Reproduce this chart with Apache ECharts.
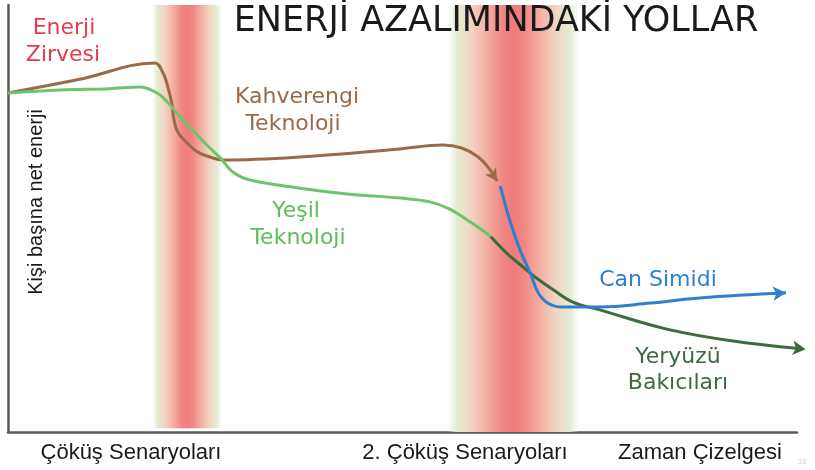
<!DOCTYPE html>
<html><head><meta charset="utf-8">
<script src="https://cdn.jsdelivr.net/npm/echarts@6/dist/echarts.min.js"></script>
<style>html,body{margin:0;padding:0;background:#fff}#c{width:815px;height:470px}</style>
</head><body><div id="c"></div>
<script>
// Conceptual values: x = time (0-100), y = net energy per person (0-100)
const brownTech = [[0,79.4],[9.1,82.6],[18.6,86.4],[19.6,84.3],[20.3,80.6],[20.8,76.6],[21.0,73.5],[21.5,70.3],[22.7,67.7],[24.0,65.6],[25.6,64.4],[27.2,63.7],[37.0,64.4],[49.7,66.3],[55.1,67.2],[57.5,66.5],[59.6,64.4],[61.1,61.4],[62.0,58.8]];
const greenTech = [[0,79.4],[6.6,80.1],[12.9,80.4],[16.7,80.8],[18.9,79.4],[20.2,77.3],[21.8,73.8],[23.4,70.7],[25.2,67.2],[26.9,64.2],[28.5,60.9],[30.7,59.0],[37.0,57.1],[43.3,55.7],[49.7,54.8],[53.5,53.9],[56.0,52.2],[58.6,49.2],[60.1,47.3],[61.2,45.7]];
const earthCare = [[61.2,45.7],[63.2,41.9],[65.3,38.6],[66.8,36.3],[69.1,33.3],[71.6,30.4],[75.0,28.6],[83.5,24.1],[91.9,21.3],[101.1,19.4]];
const lifeboat = [[62.4,57.6],[63.6,49.6],[64.9,42.6],[66.2,37.2],[67.2,32.6],[68.4,30.2],[70.0,29.3],[75.0,29.3],[81.4,30.2],[87.7,31.4],[98.6,32.6]];
const collapseBand1 = [18.3, 27.1];
const collapseBand2 = [55.7, 72.4];
const seriesNames = ['Kahverengi Teknoloji','Yeşil Teknoloji','Yeryüzü Bakıcıları','Can Simidi'];
const axisLabels = ['Çöküş Senaryoları','2. Çöküş Senaryoları','Zaman Çizelgesi'];
const yAxisName = 'Kişi başına net enerji';

function withArrow(arr, rot, size){
  return arr.map((p,i)=> i===arr.length-1 ? {value:p, symbol:'arrow', symbolSize:size, symbolRotate:rot} : {value:p});
}
function bandGrad(){
  return {type:'linear',x:0,y:0,x2:1,y2:0,colorStops:[
    {offset:0,color:'rgba(228,238,212,0)'},
    {offset:0.07,color:'#e3edd2'},
    {offset:0.18,color:'#f2d4c2'},
    {offset:0.3,color:'#f3aea2'},
    {offset:0.42,color:'#f08684'},
    {offset:0.5,color:'#ee7c7b'},
    {offset:0.58,color:'#f08684'},
    {offset:0.7,color:'#f3aea2'},
    {offset:0.82,color:'#f2d4c2'},
    {offset:0.93,color:'#e3edd2'},
    {offset:1,color:'rgba(228,238,212,0)'}]};
}
function line(name, data, color, z){
  return {name, type:'line', data, smooth:0.4, symbol:'none', showAllSymbol:true, clip:false, z,
    lineStyle:{color, width:3}, itemStyle:{color}, emphasis:{disabled:true}, animation:false};
}
const chart = echarts.init(document.getElementById('c'));
const txt = (t,x,y,color,font,extra)=>Object.assign({type:'text', x, y, z:100, style:{text:t, fill:color, font, align:'center', verticalAlign:'middle', textAlign:'center', textVerticalAlign:'middle'}}, extra||{});
const lblFont = '22px "DejaVu Sans"';
chart.setOption({
  animation:false,
  grid:{left:8, top:5, width:789, height:427},
  xAxis:{type:'value', min:0, max:100, axisLine:{show:true, lineStyle:{color:'#5a5a5a', width:2.5}}, axisTick:{show:false}, axisLabel:{show:false}, splitLine:{show:false}},
  yAxis:{type:'value', min:0, max:100, axisLine:{show:true, lineStyle:{color:'#5a5a5a', width:2.5}}, axisTick:{show:false}, axisLabel:{show:false}, splitLine:{show:false}},
  series:[
    Object.assign(line(seriesNames[0], withArrow(brownTech,-146,[10,12]), '#9a6a48', 3), {
      markArea:{silent:true, z:1, itemStyle:{color:bandGrad()}, data:[
        [{xAxis:collapseBand1[0], yAxis:0.9},{xAxis:collapseBand1[1], yAxis:100}],
        [{xAxis:collapseBand2[0], yAxis:0},{xAxis:collapseBand2[1], yAxis:100.5}]
      ]}
    }),
    line(seriesNames[1], greenTech, '#6cc56a', 4),
    line(seriesNames[2], withArrow(earthCare,-96,[11,13]), '#3d6b40', 5),
    line(seriesNames[3], withArrow(lifeboat,-86,[11,13]), '#2f7fcf', 6)
  ],
  graphic:[
    txt('ENERJİ AZALIMINDAKİ YOLLAR', 496, 22, '#1a1a1a', '35px "DejaVu Sans"'),
    txt('Enerji', 64, 28, '#e63a4d', lblFont),
    txt('Zirvesi', 63, 55, '#e63a4d', lblFont),
    txt('Kahverengi', 297, 97, '#9a6a48', lblFont),
    txt('Teknoloji', 293, 124, '#9a6a48', lblFont),
    txt('Yeşil', 296, 211, '#5dbd5a', lblFont),
    txt('Teknoloji', 298, 238, '#5dbd5a', lblFont),
    txt('Can Simidi', 658, 280, '#2f7fcf', lblFont),
    txt('Yeryüzü', 678, 357, '#3d6b40', lblFont),
    txt('Bakıcıları', 678, 383, '#3d6b40', lblFont),
    txt(yAxisName, 36, 202, '#1a1a1a', '20px "Liberation Sans"', {rotation:Math.PI/2}),
    txt(axisLabels[0], 131, 453, '#1a1a1a', '22px "Liberation Sans"'),
    txt(axisLabels[1], 465, 453, '#1a1a1a', '22px "Liberation Sans"'),
    txt(axisLabels[2], 700, 453, '#1a1a1a', '22px "Liberation Sans"'),
    txt('33', 802, 462, '#c9d9c2', '7px "Liberation Sans"')
  ]
});
</script></body></html>
